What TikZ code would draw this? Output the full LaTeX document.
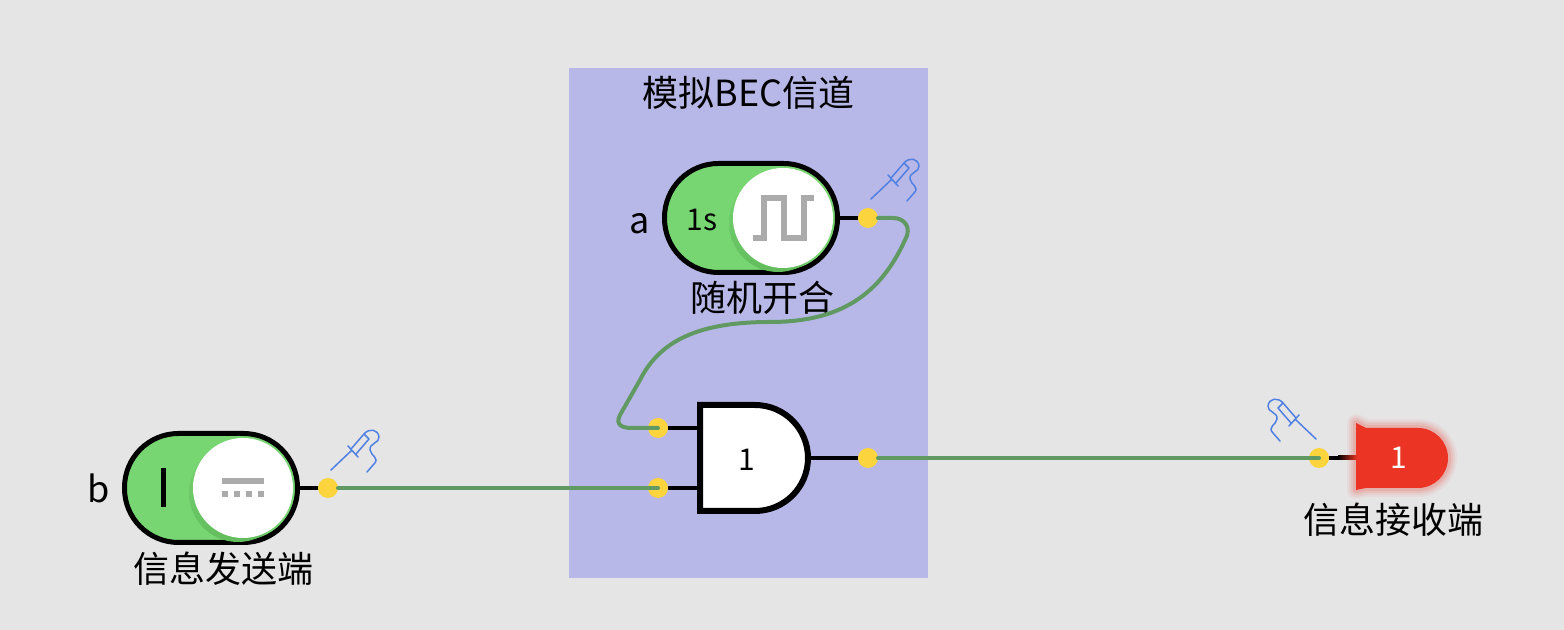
\documentclass[tikz,border=0pt]{standalone}
\usepackage{fontspec}
\setmainfont{Noto Sans CJK SC}
\usetikzlibrary{positioning}

\definecolor{canvasgray}{HTML}{E5E5E5}
\definecolor{panelblue}{HTML}{B8B8E8}
\definecolor{swgreen}{HTML}{78D672}
\definecolor{shadegreen}{HTML}{62BC5C}
\definecolor{pinyellow}{HTML}{FCD43E}
\definecolor{wiregreen}{HTML}{609A62}
\definecolor{glyphgray}{HTML}{ABABAB}
\definecolor{probeblue}{HTML}{4F80E2}
\definecolor{ledred}{HTML}{EC3424}

\tikzset{
    lbl/.style={font=\fontsize{18}{20}\selectfont,inner sep=0pt},
    num/.style={font=\fontsize{15}{17}\selectfont,inner sep=0pt},
    toggle/.style={rectangle,rounded corners=27pt,draw=black,fill=swgreen,line width=2.5pt,minimum width=86.5pt,minimum height=54.5pt,outer sep=0pt},
    knob/.style={circle,fill=white,minimum size=50pt,inner sep=0pt},
    knobshade/.style={circle,top color=swgreen,bottom color=shadegreen,minimum size=49pt,inner sep=0pt},
    pinDot/.style={circle,fill=pinyellow,minimum size=10pt,inner sep=0pt,outer sep=0pt},
    stub/.style={draw=black,line width=2pt},
    wire/.style={draw=wiregreen,line width=2pt,line cap=round},
    glyph/.style={draw=glyphgray,line width=3pt},
    probe/.pic={
        \draw[probeblue,line width=.75pt,line cap=round,line join=round]
            (0,0) -- (20,19) (17,24) -- (27,13)
            (20,21) -- (33,36) -- (38,31) -- (25,16)
            (33,36) .. controls (38,42) and (47,41) .. (48,33)
            .. controls (49,27) and (38,27) .. (39,20)
            .. controls (40,14) and (49,12) .. (43,6)
            -- (36,-2);
    }
}

\begin{document}
\begin{tikzpicture}[x=.5pt,y=.5pt]
    \useasboundingbox (0,0) rectangle (1564,630);
    \fill[canvasgray] (0,0) rectangle (1564,630);

    % channel panel
    \node[fill=panelblue,minimum width=179.5pt,minimum height=255pt,inner sep=0pt] (panel) at (748.5,307) {};
    \node[lbl,below=4pt of panel.north] (title) {模拟BEC信道};

    % random switch
    \node[toggle] (swa) at (751,412) {};
    \node[knobshade] (shadea) at (778,407) {};
    \node[knob] (knoba) at (783,412) {};
    \node[num] (perioda) at (702,410) {1s};
    \node[lbl,left=7pt of swa,yshift=-3pt] (nama) {a};
    \node[lbl,below=4pt of swa,xshift=5.5pt] (capa) {随机开合};
    \draw[glyph] ([shift={(-30,-20)}]knoba.center) -- ++(11,0) -- ++(0,40) -- ++(20,0) -- ++(0,-40) -- ++(20,0) -- ++(0,40) -- ++(10,0);

    % sender switch
    \node[toggle] (swb) at (211,142) {};
    \node[knobshade] (shadeb) at (238,137) {};
    \node[knob] (knobb) at (243,142) {};
    \draw[draw=black,line width=2.5pt] (163,162) -- (163,123);
    \node[lbl,left=7pt of swb] (namb) {b};
    \node[lbl,below=4.5pt of swb,xshift=6pt] (capb) {信息发送端};
    \draw[glyph] ([shift={(-21,7)}]knobb.center) -- ++(42,0);
    \draw[glyph,dash pattern=on 2.8pt off 3.2pt] ([shift={(-21,-6)}]knobb.center) -- ++(42,0);

    % gate
    \node[minimum width=54pt,minimum height=53pt,inner sep=0pt,outer sep=0pt] (gate) at (754,172) {};
    \fill[white,draw=black,line width=3pt,line join=miter] (gate.north west) -- ++(55,0) arc[start angle=90,end angle=-90,radius=53] -- (gate.south west) -- cycle;
    \node[num] (gatenum) at (747,170) {1};

    % led
    \node[num,minimum width=42pt,minimum height=30pt] (led) at (1399,172) {};

    % pins
    \node[pinDot] (outa) at (868,412) {};
    \node[pinDot] (outb) at (328,142) {};
    \node[pinDot] (ina) at (658,202) {};
    \node[pinDot] (inb) at (658,142) {};
    \node[pinDot] (outg) at (868,172) {};
    \node[pinDot] (inled) at (1319,172) {};

    % led body
    \foreach \wd/\op in {9/.05,7/.07,5/.09,3/.12}
        \draw[ledred,opacity=\op,line width=\wd pt,line join=round] (1356,207) -- (1366,202) -- (1418,202) arc[start angle=90,end angle=-90,radius=30] -- (1366,142) -- (1356,140) -- cycle;
    \fill[ledred] (1356,207) -- (1366,202) -- (1418,202) arc[start angle=90,end angle=-90,radius=30] -- (1366,142) -- (1356,140) -- cycle;
    \node[num,text=white] (lednum) at (led.center) {1};
    \node[lbl,below=7pt of led,xshift=-3pt] (capled) {信息接收端};

    % stubs
    \draw[stub] (swa.east) -- (outa.west);
    \draw[stub] (swb.east) -- (outb.west);
    \draw[stub] (ina.east) -- (ina.east -| gate.west);
    \draw[stub] (inb.east) -- (inb.east -| gate.west);
    \draw[stub] (gate.east) -- (outg.west);
    \draw[stub] (inled.east) -- (led.west);
    \fill[left color=black,right color=ledred] (1338,170) rectangle (1357,174);

    % wires
    \draw[wire] (outb.east) -- (inb.center);
    \draw[wire] (outg.east) -- (inled.center);
    \draw[wire] (outa.east) -- (893,412) .. controls (905,412) and (912,402) .. (905,390)
        .. controls (880,335) and (840,308) .. (770,308)
        .. controls (700,308) and (660,290) .. (640,250)
        -- (620,215) .. controls (615,205) and (622,202) .. (632,202) -- (ina.center);

    % probes
    \pic at ([shift={(3,19)}]outa.center) {probe};
    \pic at ([shift={(3,18)}]outb.center) {probe};
    \pic[xscale=-1] at ([shift={(-3,19)}]inled.center) {probe};
\end{tikzpicture}
\end{document}
